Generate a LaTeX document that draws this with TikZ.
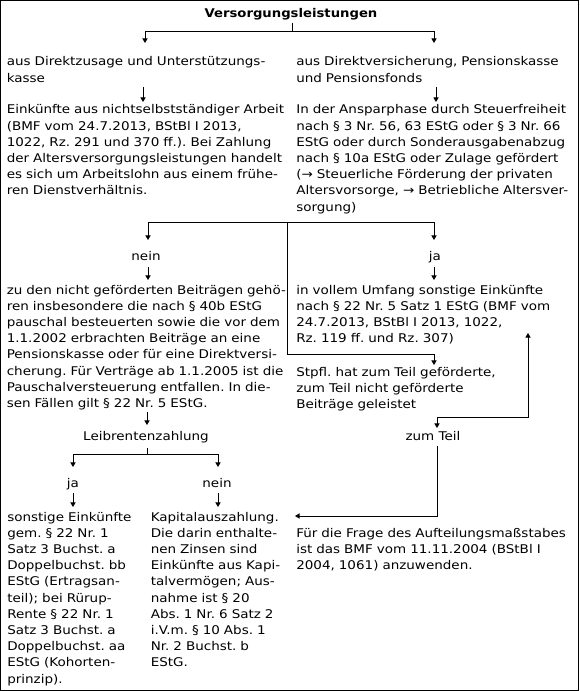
\documentclass[tikz,border=0pt]{standalone}
\usepackage{fontspec}
\setmainfont{DejaVu Sans}[FakeStretch=1.125]
\newfontfamily\titlefont{DejaVu Sans}[FakeStretch=1.1]
\usetikzlibrary{arrows.meta}
\AtBeginDocument{\frenchspacing}
\begin{document}
\begin{tikzpicture}[x=0.75pt,y=-0.75pt,
  txt/.style={anchor=base west,inner sep=0pt,align=left,text width=#1,font=\fontsize{9pt}{12.15pt}\selectfont},
  txt/.default=230pt,
  lbl/.style={anchor=base,inner sep=0pt,font=\fontsize{9pt}{12.15pt}\selectfont},
  conn/.style={line width=0.75pt},
  arr/.style={conn,-{Triangle[length=3.4pt,width=3.8pt]}},
  darr/.style={conn,{Triangle[length=3.4pt,width=3.8pt]}-{Triangle[length=3.4pt,width=3.8pt]}}]
\useasboundingbox (0,0) rectangle (579,691);
\draw[line width=0.75pt] (0.5,0.5) rectangle (578.5,690);

% texts
\node[lbl,font=\fontsize{9pt}{12.15pt}\titlefont\bfseries] (title) at (291,18) {Versorgungsleistungen};
\node[txt] (dz) at (6.5,66) {aus Direktzusage und Unterstützungs-\\kasse};
\node[txt] (dv) at (296,66) {aus Direktversicherung, Pensionskasse\\und Pensionsfonds};
\node[txt] (ea) at (6.5,114) {Einkünfte aus nichtselbstständiger Arbeit\\(BMF vom 24.7.2013, BStBl I 2013,\\1022, Rz. 291 und 370 ff.). Bei Zahlung\\der Altersversorgungsleistungen handelt\\es sich um Arbeitslohn aus einem frühe-\\ren Dienstverhältnis.};
\node[txt] (an) at (296,114) {In der Ansparphase durch Steuerfreiheit\\nach § 3 Nr. 56, 63 EStG oder § 3 Nr. 66\\EStG oder durch Sonderausgabenabzug\\nach § 10a EStG oder Zulage gefördert\\(→ Steuerliche Förderung der privaten\\Altersvorsorge, → Betriebliche Altersver-\\sorgung)};
\node[lbl] (nein1) at (146,261) {nein};
\node[lbl] (ja1) at (435,261) {ja};
\node[txt] (nz) at (6.5,294) {zu den nicht geförderten Beiträgen gehö-\\ren insbesondere die nach § 40b EStG\\pauschal besteuerten sowie die vor dem\\1.1.2002 erbrachten Beiträge an eine\\Pensionskasse oder für eine Direktversi-\\cherung. Für Verträge ab 1.1.2005 ist die\\Pauschalversteuerung entfallen. In die-\\sen Fällen gilt § 22 Nr. 5 EStG.};
\node[txt] (vu) at (296,294) {in vollem Umfang sonstige Einkünfte\\nach § 22 Nr. 5 Satz 1 EStG (BMF vom\\24.7.2013, BStBl I 2013, 1022,\\Rz. 119 ff. und Rz. 307)};
\node[txt] (st) at (296,376) {Stpfl. hat zum Teil geförderte,\\zum Teil nicht geförderte\\Beiträge geleistet};
\node[lbl] (lr) at (146,440) {Leibrentenzahlung};
\node[lbl] (zt) at (433,440) {zum Teil};
\node[lbl] (ja2) at (73,487) {ja};
\node[lbl] (nein2) at (217,487) {nein};
\node[txt=110pt] (se) at (7,521) {sonstige Einkünfte\\gem. § 22 Nr. 1\\Satz 3 Buchst. a\\Doppelbuchst. bb\\EStG (Ertragsan-\\teil); bei Rürup-\\Rente § 22 Nr. 1\\Satz 3 Buchst. a\\Doppelbuchst. aa\\EStG (Kohorten-\\prinzip).};
\node[txt=110pt] (ka) at (150.5,521) {Kapitalauszahlung.\\Die darin enthalte-\\nen Zinsen sind\\Einkünfte aus Kapi-\\talvermögen; Aus-\\nahme ist § 20\\Abs. 1 Nr. 6 Satz 2\\i.V.m. § 10 Abs. 1\\Nr. 2 Buchst. b\\EStG.};
\node[txt] (fa) at (296,537) {Für die Frage des Aufteilungsmaßstabes\\ist das BMF vom 11.11.2004 (BStBl I\\2004, 1061) anzuwenden.};

% junction and end coordinates
\coordinate (j1) at (292,32);
\coordinate (t-dz) at (145,43);
\coordinate (t-dv) at (434,43);
\coordinate (s-ea) at (143,87);  \coordinate (t-ea) at (143,102);
\coordinate (s-an) at (436,87);  \coordinate (t-an) at (436,102);
\coordinate (j2) at (287,223);
\coordinate (t-nein1) at (148,240);
\coordinate (t-ja1) at (434,240);
\coordinate (t-st) at (434,365);
\coordinate (s-nz) at (148,267); \coordinate (t-nz) at (148,280);
\coordinate (s-vu) at (434,267); \coordinate (t-vu) at (434,280);
\coordinate (t-vu2) at (528,333);
\coordinate (t-zt) at (437,428);
\coordinate (j3) at (437,417);
\coordinate (s-lr) at (147,412); \coordinate (t-lr) at (147,425);
\coordinate (s-j4) at (147,448);
\coordinate (j4) at (147,454);
\coordinate (t-ja2) at (73,467);
\coordinate (t-nein2) at (218,467);
\coordinate (s-se) at (73,493);  \coordinate (t-se) at (73,507);
\coordinate (s-ka) at (218,493); \coordinate (t-ka) at (218,507);
\coordinate (s-fa) at (437,446);
\coordinate (t-fa) at (295,516);

% connectors
\draw[conn] (title.south -| j1) ++(0,2) -- (j1);
\draw[arr] (j1) -| (t-dz);
\draw[arr] (j1) -| (t-dv);
\draw[arr] (s-ea) -- (t-ea);
\draw[arr] (s-an) -- (t-an);
\draw[arr] (j2) -| (t-nein1);
\draw[arr] (j2) -| (t-ja1);
\draw[arr] (j2) |- (t-st |- 0,354) -- (t-st);
\draw[arr] (s-nz) -- (t-nz);
\draw[arr] (s-vu) -- (t-vu);
\draw[darr] (t-vu2) |- (j3) -- (t-zt);
\draw[arr] (s-lr) -- (t-lr);
\draw[conn] (s-j4) -- (j4);
\draw[arr] (j4) -| (t-ja2);
\draw[arr] (j4) -| (t-nein2);
\draw[arr] (s-se) -- (t-se);
\draw[arr] (s-ka) -- (t-ka);
\draw[arr] (s-fa) |- (t-fa);
\end{tikzpicture}
\end{document}
